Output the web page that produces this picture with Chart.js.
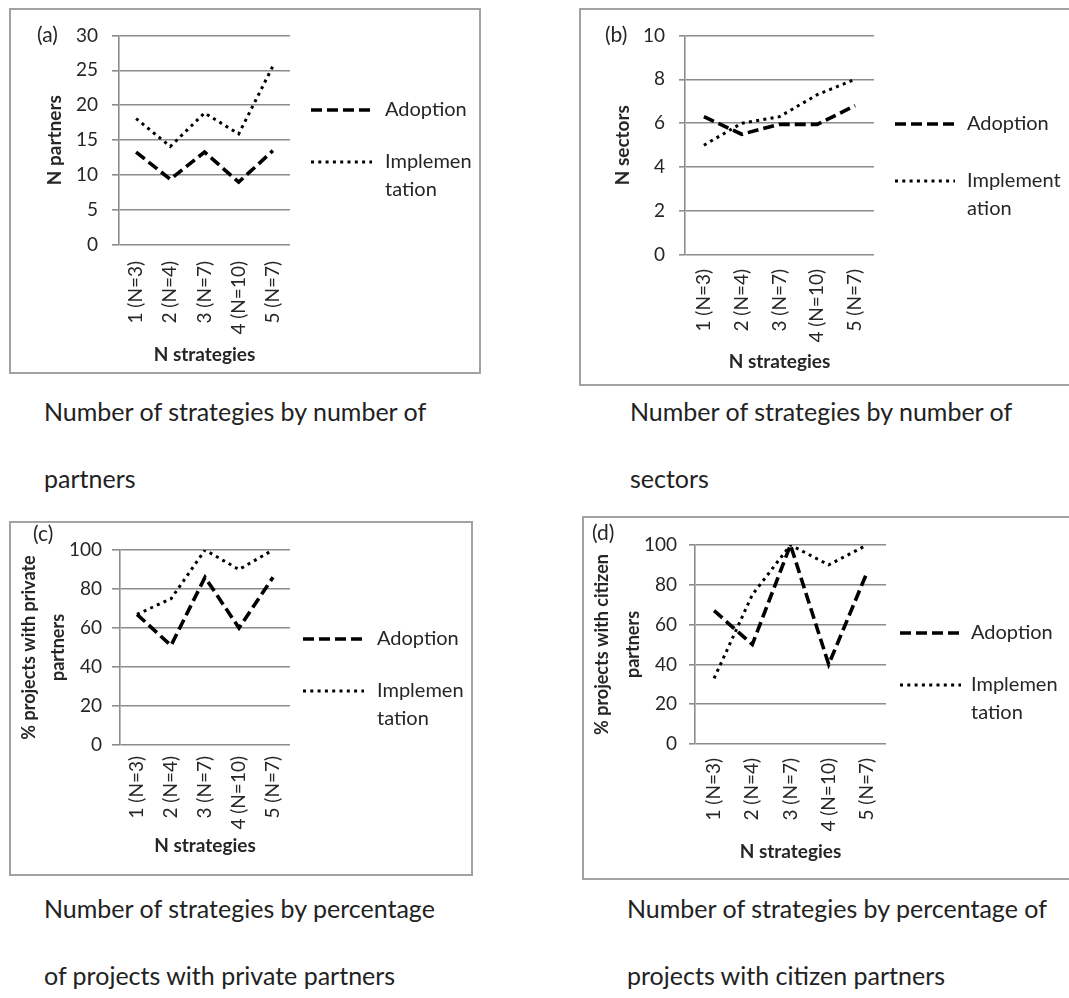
<!DOCTYPE html>
<html>
<head>
<meta charset="utf-8">
<script src="https://cdn.jsdelivr.net/npm/chart.js@4.4.1/dist/chart.umd.min.js"></script>
<style>
  html, body { margin: 0; padding: 0; background: #fff; }
  body { width: 1069px; height: 998px; position: relative; overflow: hidden; font-family: Lato, "Open Sans", sans-serif; }
  .box { position: absolute; border: 2px solid #a2a2a2; box-sizing: border-box; background: #fff; }
  .box canvas { position: absolute; left: 0; top: 0; }
  .cap { position: absolute; font-size: 25px; line-height: 30px; color: #222; white-space: nowrap; }
</style>
</head>
<body>
<div class="box" id="boxA" style="left:9px;top:8px;width:472px;height:366px"><canvas id="chartA" width="468" height="362"></canvas></div>
<div class="box" id="boxB" style="left:579px;top:8px;width:500px;height:378px"><canvas id="chartB" width="496" height="374"></canvas></div>
<div class="box" id="boxC" style="left:9px;top:521px;width:464px;height:355px"><canvas id="chartC" width="460" height="351"></canvas></div>
<div class="box" id="boxD" style="left:582px;top:516px;width:500px;height:364px"><canvas id="chartD" width="496" height="360"></canvas></div>

<div class="cap" style="left:44px;top:396px">Number of strategies by number of</div>
<div class="cap" style="left:44px;top:463px">partners</div>
<div class="cap" style="left:630px;top:396px">Number of strategies by number of</div>
<div class="cap" style="left:630px;top:463px">sectors</div>
<div class="cap" style="left:44px;top:893px">Number of strategies by percentage</div>
<div class="cap" style="left:44px;top:960px">of projects with private partners</div>
<div class="cap" style="left:627px;top:893px">Number of strategies by percentage of</div>
<div class="cap" style="left:627px;top:960px">projects with citizen partners</div>

<script>
// Shared category axis
const categories = ['1 (N=3)', '2 (N=4)', '3 (N=7)', '4 (N=10)', '5 (N=7)'];

// (a) number of partners
const partnersAdoption = [13.3, 9.4, 13.3, 9.0, 13.5];
const partnersImplementation = [18.1, 14.1, 18.9, 15.9, 25.6];

// (b) number of sectors
const sectorsAdoption = [6.3, 5.5, 5.95, 5.95, 6.8];
const sectorsImplementation = [5.0, 6.0, 6.3, 7.3, 8.0];

// (c) % projects with private partners
const privateAdoption = [67, 51, 86, 60, 86];
const privateImplementation = [67, 75, 100, 90, 100];

// (d) % projects with citizen partners
const citizenAdoption = [67, 50, 100, 40, 86];
const citizenImplementation = [33, 75, 100, 90, 100];

const seriesNames = ['Adoption', 'Implementation'];

const GRID = '#8c8c8c';
const TEXT = '#262626';
const FONT = 'Lato';

// Panel tag and the side legend, drawn with each dataset's own stroke style
const panelDecor = {
  id: 'panelDecor',
  afterDraw(chart, args, o) {
    const ctx = chart.ctx;
    ctx.save();
    ctx.fillStyle = TEXT;
    ctx.textBaseline = 'middle';
    ctx.textAlign = 'left';
    ctx.font = '21px ' + FONT;
    ctx.fillText(o.tag, o.tagX, o.tagY);
    ctx.font = '20px ' + FONT;
    chart.data.datasets.forEach((ds, i) => {
      const y = o.rows[i];
      ctx.strokeStyle = ds.borderColor;
      ctx.lineWidth = ds.borderWidth;
      ctx.setLineDash(ds.borderDash);
      ctx.beginPath();
      ctx.moveTo(o.lineX, y);
      ctx.lineTo(o.lineX + o.lineLen, y);
      ctx.stroke();
      ctx.setLineDash([]);
      o.texts[i].forEach((t, k) => ctx.fillText(t, o.textX, y + k * o.textLH));
    });
    ctx.restore();
  }
};

function makePanel(id, p) {
  const canvas = document.getElementById(id);
  const W = canvas.width, H = canvas.height;
  return new Chart(canvas, {
    type: 'line',
    data: {
      labels: categories,
      datasets: [
        { label: seriesNames[0], data: p.adoption, borderColor: '#000', borderWidth: 3.6,
          borderDash: [11, 5], pointRadius: 0, tension: 0, fill: false },
        { label: seriesNames[1], data: p.implementation, borderColor: '#000', borderWidth: 3,
          borderDash: [3, 4.3], pointRadius: 0, tension: 0, fill: false }
      ]
    },
    options: {
      responsive: false,
      animation: false,
      events: [],
      layout: { padding: { left: 0, top: p.top, right: W - p.right, bottom: 0 } },
      plugins: {
        legend: { display: false },
        tooltip: { enabled: false },
        panelDecor: p.decor
      },
      scales: {
        x: {
          offset: true,
          grid: { display: false, drawTicks: false },
          border: { display: false },
          ticks: { minRotation: 90, maxRotation: 90, autoSkip: false, padding: p.xPad,
                   color: TEXT, font: { family: FONT, size: 19 } },
          title: { display: true, text: 'N strategies', color: TEXT,
                   font: { family: FONT, size: 19, weight: 'bold' },
                   padding: { top: 0, bottom: p.xTitlePad } },
          afterFit: s => { s.height = H - p.bottom; }
        },
        y: {
          min: 0, max: p.max,
          grid: { color: GRID, lineWidth: 1.6, tickLength: p.tickLen, drawTicks: true },
          border: { display: true, color: GRID, width: 1.6 },
          ticks: { stepSize: p.step, padding: p.yPad, color: TEXT,
                   font: { family: FONT, size: 19 } },
          title: { display: true, text: p.yTitle, color: TEXT,
                   font: { family: FONT, size: p.yTitleSize, weight: 'bold', lineHeight: p.yTitleLH },
                   padding: { top: p.yTitlePad, bottom: 0 } },
          afterFit: s => { s.width = p.left; }
        }
      }
    },
    plugins: [panelDecor]
  });
}

makePanel('chartA', {
  adoption: partnersAdoption, implementation: partnersImplementation,
  max: 30, step: 5, yTitle: 'N partners', yTitleSize: 19, yTitleLH: 1.2, yTitlePad: 32,
  left: 108, right: 279, top: 25, bottom: 235,
  tickLen: 7, yPad: 14, xPad: 16, xTitlePad: 6,
  decor: { tag: '(a)', tagX: 26, tagY: 25, lineX: 300, lineLen: 61, textX: 374,
           rows: [100, 152], textLH: 28, texts: [['Adoption'], ['Implemen', 'tation']] }
});

makePanel('chartB', {
  adoption: sectorsAdoption, implementation: sectorsImplementation,
  max: 10, step: 2, yTitle: 'N sectors', yTitleSize: 19, yTitleLH: 1.2, yTitlePad: 30,
  left: 104, right: 293, top: 25, bottom: 245,
  tickLen: 6, yPad: 14, xPad: 14, xTitlePad: 11,
  decor: { tag: '(b)', tagX: 24, tagY: 25, lineX: 314, lineLen: 60, textX: 386,
           rows: [114, 171], textLH: 28, texts: [['Adoption'], ['Implement', 'ation']] }
});

makePanel('chartC', {
  adoption: privateAdoption, implementation: privateImplementation,
  max: 100, step: 20, yTitle: ['% projects with private', 'partners'], yTitleSize: 18, yTitleLH: 1.6, yTitlePad: 4,
  left: 109, right: 279, top: 27, bottom: 222,
  tickLen: 8, yPad: 10, xPad: 11, xTitlePad: 17,
  decor: { tag: '(c)', tagX: 22, tagY: 11, lineX: 292, lineLen: 61, textX: 366,
           rows: [116, 168], textLH: 28, texts: [['Adoption'], ['Implemen', 'tation']] }
});

makePanel('chartD', {
  adoption: citizenAdoption, implementation: citizenImplementation,
  max: 100, step: 20, yTitle: ['% projects with citizen', 'partners'], yTitleSize: 18, yTitleLH: 1.7, yTitlePad: 3,
  left: 111, right: 302, top: 27, bottom: 226,
  tickLen: 6, yPad: 12, xPad: 14, xTitlePad: 15,
  decor: { tag: '(d)', tagX: 8, tagY: 15, lineX: 316, lineLen: 61, textX: 387,
           rows: [115, 167], textLH: 28, texts: [['Adoption'], ['Implemen', 'tation']] }
});
</script>
</body>
</html>
